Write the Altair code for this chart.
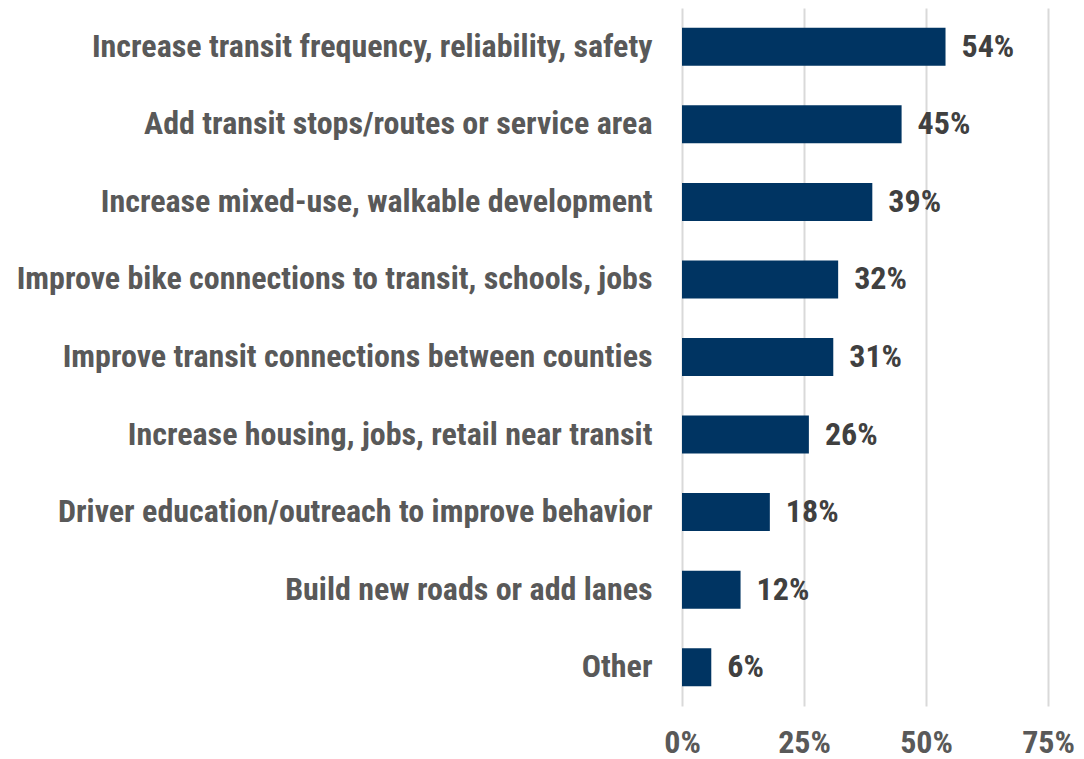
import altair as alt
import pandas as pd

categories = [
    "Increase transit frequency, reliability, safety",
    "Add transit stops/routes or service area",
    "Increase mixed-use, walkable development",
    "Improve bike connections to transit, schools, jobs",
    "Improve transit connections between counties",
    "Increase housing, jobs, retail near transit",
    "Driver education/outreach to improve behavior",
    "Build new roads or add lanes",
    "Other",
]
values = [54, 45, 39, 32, 31, 26, 18, 12, 6]
labels = [f"{v}%" for v in values]
x_ticks = [0, 25, 50, 75]

df = pd.DataFrame({"category": categories, "value": values, "label": labels})

FONT = "Roboto Condensed, Roboto"
LS = 32

y = alt.Y(
    "category:N",
    sort=categories,
    title=None,
    scale=alt.Scale(paddingInner=0.51, paddingOuter=0.255),
    axis=alt.Axis(
        domain=False, ticks=False, grid=False,
        labelFont=FONT, labelFontSize=LS, labelFontWeight="bold",
        labelColor="#595959", labelPadding=30, labelLimit=900,
    ),
)

x = alt.X(
    "value:Q",
    title=None,
    scale=alt.Scale(domain=[0, 75], nice=False),
    axis=alt.Axis(
        values=x_ticks, labelExpr="datum.value + '%'",
        domain=False, ticks=False, grid=True, labelFlush=False,
        gridColor="#d9d9d9", gridWidth=2,
        labelFont=FONT, labelFontSize=LS, labelFontWeight="bold",
        labelColor="#595959", labelPadding=21,
    ),
)

bars = alt.Chart(df).mark_bar(color="#003462").encode(x=x, y=y)
text = alt.Chart(df).mark_text(
    align="left", baseline="middle", dx=16,
    font=FONT, fontSize=LS, fontWeight="bold", color="#404040",
).encode(x="value:Q", y=alt.Y("category:N", sort=categories), text="label:N")

chart = (bars + text).properties(
    width=366, height=698,
    autosize=alt.AutoSizeParams(type="none"),
    padding={"left": 674, "top": 0, "right": 28, "bottom": 53},
).configure_view(stroke=None)

chart.save("out.html", embed_options={"renderer": "svg", "actions": False})
